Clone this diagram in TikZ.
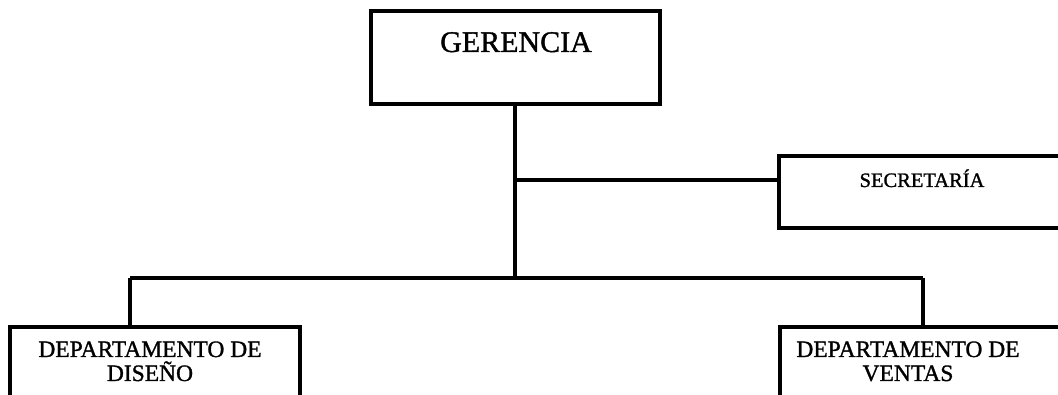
\documentclass[tikz,border=0pt]{standalone}
\usepackage{fontspec}
\setmainfont{Liberation Serif}[FakeBold=1.2]
\begin{document}
\begin{tikzpicture}[x=1pt,y=-1pt,
  box/.style={draw,line width=3.2pt,rectangle,inner sep=0pt},
  lbl/.style={anchor=base,inner sep=0pt,align=center},
  conn/.style={line width=3.2pt}]
\useasboundingbox (0,0) rectangle (1058,395);
% boxes
\node[box,minimum width=289pt,minimum height=93pt] (ger) at (515.5,57.5) {};
\node[box,minimum width=291pt,minimum height=72pt] (sec) at (924.5,192) {};
\node[box,minimum width=290pt,minimum height=90pt] (dis) at (155,372) {};
\node[box,minimum width=290pt,minimum height=90pt] (ven) at (925,372) {};
% texts
\node[lbl,font=\fontsize{30}{36}\selectfont] (tger) at (516,52) {GERENCIA};
\node[lbl,font=\fontsize{20.5}{24}\selectfont] (tsec) at (922,187) {SECRETARÍA};
\node[lbl,font=\fontsize{23.5}{24}\selectfont] (tdis1) at (150,357) {DEPARTAMENTO DE};
\node[lbl,font=\fontsize{23.5}{24}\selectfont] (tdis2) at (150,381) {DISEÑO};
\node[lbl,font=\fontsize{23.5}{24}\selectfont] (tven1) at (908,357) {DEPARTAMENTO DE};
\node[lbl,font=\fontsize{23.5}{24}\selectfont] (tven2) at (908,381) {VENTAS};
% connector points
\coordinate (jsec) at (515,180);
\coordinate (jbus) at (515,278);
\coordinate (lbus) at (130,278);
\coordinate (rbus) at (923,278);
\draw[conn] (ger.south -| jbus) -- (jbus);
\draw[conn] (jsec) -- (jsec -| sec.west);
\draw[conn] (lbus) -- (rbus);
\draw[conn] (lbus) -- (lbus |- dis.north);
\draw[conn] (rbus) -- (rbus |- ven.north);
\end{tikzpicture}
\end{document}
